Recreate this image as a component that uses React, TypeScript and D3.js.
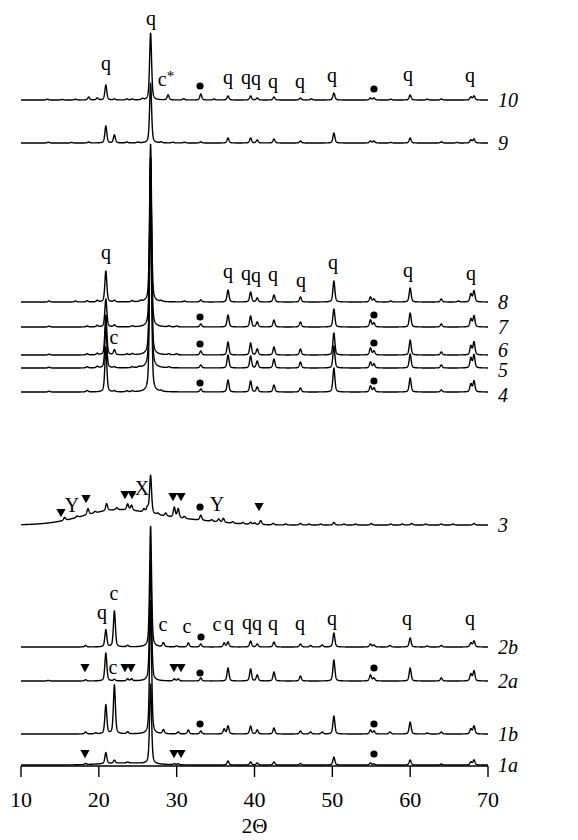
import * as d3 from 'd3';

const W = 578;
const H = 840;

// trace names, bottom to top, and their vertical offsets (intensity units)
const traceNames = ['1a', '1b', '2a', '2b', '3', '4', '5', '6', '7', '8', '9', '10'];
const traceOffsets = [1, 32, 85, 119, 241, 374, 398, 411, 439, 464, 623, 666];

// peaks: [2θ, height]
const peaks1a: [number, number][] = [
  [18.3, 1], [20.9, 11], [22.0, 3], [23.7, 1], [26.65, 80], [29.7, 1], [30.2, 1], [36.6, 4],
  [39.5, 3], [40.35, 2], [42.5, 3], [45.9, 1.5], [50.2, 8], [54.9, 2], [55.35, 1], [60.0, 5],
  [64.0, 1], [67.8, 3], [68.2, 5],
];
const peaks1b: [number, number][] = [
  [18.3, 2], [19.6, 1], [20.9, 29], [22.0, 49], [23.7, 2], [26.65, 134], [28.3, 4], [30.2, 2],
  [31.5, 4], [33.1, 3], [36.1, 5], [36.6, 8], [39.5, 8], [40.35, 4], [42.5, 6], [45.9, 3],
  [47.2, 2], [48.7, 2], [50.2, 18], [54.9, 4], [55.35, 3], [57.4, 2], [60.0, 12], [62.2, 1],
  [64.0, 2], [67.8, 5], [68.2, 8],
];
const peaks2a: [number, number][] = [
  [13.5, 0.6], [18.3, 1.2], [20.9, 28], [22.0, 1.5], [23.7, 2], [24.2, 2], [26.65, 120],
  [29.7, 2], [30.2, 2], [33.1, 3], [36.6, 13], [39.5, 12], [40.35, 6], [42.5, 9], [45.9, 5],
  [50.2, 21], [54.9, 6], [55.35, 3], [60.0, 13], [64.0, 3], [67.8, 7], [68.2, 10],
];
const peaks2b: [number, number][] = [
  [18.3, 1.5], [20.9, 17], [22.0, 36], [23.7, 1.5], [26.65, 121], [28.3, 4], [30.0, 1],
  [31.5, 4], [33.1, 3], [36.1, 4], [36.6, 5], [39.5, 6], [40.35, 3], [42.5, 5], [45.9, 3],
  [47.2, 1.5], [48.7, 2], [50.2, 14], [54.9, 3], [55.35, 2], [57.4, 1.5], [60.0, 9],
  [62.2, 1], [64.0, 1.5], [67.8, 4], [68.2, 6],
];
const peaks3: [number, number][] = [
  [15.6, 3], [17.2, 1.5], [18.6, 6], [19.5, 1.5], [21.0, 7], [22.3, 2], [23.7, 6], [24.2, 5],
  [25.8, 3], [26.25, 5], [26.65, 38], [27.6, 1.5], [28.6, 3], [29.7, 10], [30.2, 9], [31.0, 2],
  [33.1, 5], [34.5, 1.5], [35.4, 3], [36.0, 4], [37.2, 1.5], [38.5, 1.5], [39.5, 2], [40.0, 1.5],
  [40.8, 4], [42.4, 1.5], [44.0, 1], [45.9, 1.5], [47.0, 1], [48.5, 1], [50.2, 2.5], [51.5, 1],
  [53.0, 1], [55.0, 1.5], [57.5, 1], [59.0, 1], [60.2, 1.5], [62.0, 1], [64.0, 1], [65.5, 1],
  [68.2, 1.5],
];
const peaks4: [number, number][] = [
  [13.6, 0.8], [18.5, 1.5], [20.9, 45], [22.0, 1], [23.6, 1], [24.3, 1], [26.65, 200],
  [28.0, 1], [33.1, 3], [36.6, 12], [39.5, 11], [40.35, 5], [42.5, 7], [45.9, 4], [50.2, 24],
  [54.9, 6], [55.35, 4], [60.0, 14], [64.0, 2], [67.8, 8], [68.2, 11],
];
const peaks5: [number, number][] = [
  [13.6, 0.8], [18.5, 1.2], [19.8, 1.5], [20.9, 42], [22.0, 1], [24.3, 1], [25.2, 1],
  [26.65, 210], [29.0, 1], [33.1, 3], [36.6, 13], [39.5, 12], [40.35, 7], [42.5, 9],
  [45.9, 6], [50.2, 22], [54.9, 6], [55.35, 4], [60.0, 14], [64.0, 3], [67.8, 10], [68.2, 13],
];
const peaks6: [number, number][] = [
  [13.6, 0.8], [18.5, 1.2], [19.8, 1.5], [20.9, 40], [22.0, 5], [23.6, 1], [24.3, 1.2],
  [26.65, 190], [29.0, 1], [30.0, 1.2], [33.1, 4], [36.6, 13], [39.5, 12], [40.35, 6],
  [42.5, 8], [45.9, 6], [50.2, 22], [54.9, 7], [55.35, 4], [60.0, 15], [64.0, 3], [67.8, 9],
  [68.2, 13],
];
const peaks7: [number, number][] = [
  [13.6, 0.8], [18.5, 1], [19.8, 1.5], [20.9, 28], [22.0, 2], [24.3, 1], [26.65, 170],
  [29.0, 1], [30.0, 1], [33.1, 3], [36.6, 12], [39.5, 11], [40.35, 5], [42.5, 7], [45.9, 5],
  [50.2, 18], [54.9, 7], [55.35, 4], [60.0, 14], [64.0, 3], [67.8, 8], [68.2, 11],
];
const peaks8: [number, number][] = [
  [13.6, 1], [17.0, 1], [18.5, 1.2], [19.8, 1.5], [20.9, 31], [22.0, 1.5], [24.3, 1.2],
  [25.4, 1], [26.65, 158], [28.0, 1], [31.0, 1], [33.1, 2], [36.6, 12], [39.5, 10],
  [40.35, 4], [42.5, 7], [45.9, 5], [50.2, 21], [54.9, 5], [55.35, 3], [57.5, 1], [60.0, 14],
  [64.0, 3], [66.2, 1], [67.8, 8], [68.2, 11],
];
const peaks9: [number, number][] = [
  [13.5, 0.8], [16.5, 0.6], [18.7, 1], [20.9, 17], [22.0, 8], [23.6, 1], [25.0, 0.8],
  [26.65, 60], [28.0, 1], [29.5, 0.8], [31.0, 0.8], [33.1, 1.2], [36.6, 5], [39.5, 5],
  [40.35, 3], [42.5, 4], [45.9, 2], [50.2, 10], [54.9, 2], [55.35, 2], [57.5, 0.6], [60.0, 5],
  [64.0, 1.2], [66.0, 0.6], [67.8, 3], [68.2, 4],
];
const peaks10: [number, number][] = [
  [13.4, 0.8], [15.3, 0.6], [17.0, 0.8], [18.7, 3], [19.8, 2], [20.9, 15], [22.0, 1],
  [23.6, 1], [24.3, 1], [25.6, 1.2], [26.65, 67], [28.9, 5], [30.9, 1.2], [33.1, 6],
  [34.8, 1], [36.6, 4], [39.5, 4], [40.35, 2], [42.5, 3], [45.9, 2], [47.3, 1.2], [50.2, 7],
  [54.9, 2], [55.35, 2], [57.5, 0.8], [60.0, 5], [62.2, 0.8], [64.0, 1], [67.8, 3], [68.2, 4],
];
const tracePeaks = [peaks1a, peaks1b, peaks2a, peaks2b, peaks3, peaks4, peaks5, peaks6, peaks7, peaks8, peaks9, peaks10];

// amorphous humps: [2θ center, height, sigma]
const humps1a: [number, number, number][] = [[23.5, 2, 3]];
const humps3: [number, number, number][] = [[22.5, 15, 4.5], [32, 4, 4]];
const traceHumps = [humps1a, [], [], [], humps3, [], [], [], [], [], [], []];

// phase marks: [symbol, 2θ, level]
const marks: [string, number, number][] = [
  // 10
  ['q', 20.92, 698], ['q', 26.7, 743], ['c*', 28.63, 684], ['dot', 33.0, 680], ['q', 36.6, 684],
  ['q', 38.9, 684], ['q', 40.19, 683], ['q', 42.38, 680], ['q', 45.85, 680], ['q', 49.96, 686],
  ['dot', 55.35, 677], ['q', 59.72, 687], ['q', 67.69, 686],
  // 8
  ['q', 20.92, 509], ['q', 36.6, 490], ['q', 38.9, 488], ['q', 40.19, 486], ['q', 42.38, 487],
  ['q', 45.98, 481], ['q', 50.09, 499], ['q', 59.72, 491], ['q', 67.82, 488],
  // 7, 6, 4
  ['dot', 33.0, 449], ['dot', 55.35, 451],
  ['c', 21.95, 426], ['dot', 33.0, 422], ['dot', 55.35, 423],
  ['dot', 33.0, 383], ['dot', 55.35, 385],
  // 3
  ['tri', 15.14, 253], ['Y', 16.55, 260], ['tri', 18.35, 267], ['tri', 23.36, 271],
  ['tri', 24.26, 271], ['X', 25.55, 277], ['tri', 29.53, 269], ['tri', 30.56, 269],
  ['dot', 33.0, 259], ['Y', 35.18, 261], ['tri', 40.58, 259],
  // 2b
  ['q', 20.41, 149], ['c', 21.95, 170], ['c', 28.24, 139], ['c', 31.33, 137], ['dot', 33.13, 129],
  ['c', 35.18, 139], ['q', 36.72, 138], ['q', 39.04, 139], ['q', 40.32, 138], ['q', 42.38, 138],
  ['q', 45.85, 138], ['q', 49.96, 143], ['q', 59.59, 143], ['q', 67.69, 143],
  // 2a
  ['tri', 18.22, 98], ['c', 21.82, 96], ['tri', 23.36, 98], ['tri', 24.13, 98],
  ['tri', 29.66, 98], ['tri', 30.56, 98], ['dot', 33.0, 93], ['dot', 55.35, 98],
  // 1b, 1a
  ['dot', 33.0, 42], ['dot', 55.35, 42],
  ['tri', 18.22, 12], ['tri', 29.66, 12], ['tri', 30.56, 12], ['dot', 55.35, 12],
];

const xTicks = [10, 20, 30, 40, 50, 60, 70];

const x = d3.scaleLinear().domain([10, 70]).range([21, 488]);
const y = d3.scaleLinear().domain([0, 740]).range([766, 26]);

const grid = d3.range(10, 70.0001, 0.02);
const WIDTH = 0.15;

function profile(peaks: [number, number][], humps: [number, number, number][], offset: number) {
  return grid.map((t) => {
    let v = offset;
    for (const [c, h] of peaks) {
      const u = (t - c) / WIDTH;
      if (Math.abs(u) > 60) continue;
      v += h * (0.45 / (1 + u * u) + 0.55 * Math.exp(-Math.LN2 * u * u));
    }
    for (const [c, h, s] of humps) {
      v += h * Math.exp(-((t - c) * (t - c)) / (2 * s * s));
    }
    return [t, v] as [number, number];
  });
}

const line = d3.line<[number, number]>()
  .x((d) => x(d[0]))
  .y((d) => y(d[1]));

const serif = '"Liberation Serif", "DejaVu Serif", serif';

// small nudges so the crowded labels 6 / 5 / 4 don't collide
const labelNudge: Record<string, number> = { '6': -5, '5': 2, '4': 3 };

function Mark({ sym, t, v }: { sym: string; t: number; v: number }) {
  const cx = x(t);
  const cy = y(v);
  if (sym === 'dot') return <circle cx={cx} cy={cy} r={3.6} fill="#000" />;
  if (sym === 'tri') {
    return <path d={`M${cx - 4.6},${cy - 4} L${cx + 4.6},${cy - 4} L${cx},${cy + 4.2} Z`} fill="#000" />;
  }
  const dy = sym === 'q' ? 2 : sym === 'X' || sym === 'Y' ? 6 : 4;
  if (sym === 'c*') {
    return (
      <text x={cx} y={cy + dy} textAnchor="middle" fontFamily={serif} fontSize={20}>
        c<tspan fontSize={15} dy={-5}>*</tspan>
      </text>
    );
  }
  return (
    <text x={cx} y={cy + dy} textAnchor="middle" fontFamily={serif} fontSize={20}>
      {sym}
    </text>
  );
}

export default function App() {
  return (
    <svg width={W} height={H} style={{ position: 'absolute', left: 0, top: 0, background: '#fff' }}>
      {traceNames.map((name, i) => (
        <g key={name}>
          <path
            d={line(profile(tracePeaks[i], traceHumps[i], traceOffsets[i])) || ''}
            fill="none"
            stroke="#000"
            strokeWidth={1.4}
            strokeLinejoin="round"
          />
          <text
            x={498}
            y={y(traceOffsets[i]) + 7 + (labelNudge[name] || 0)}
            fontFamily={serif}
            fontStyle="italic"
            fontSize={20}
          >
            {name}
          </text>
        </g>
      ))}
      {marks.map(([s, t, v], i) => (
        <Mark key={i} sym={s} t={t} v={v} />
      ))}
      <g>
        <line x1={x(10)} x2={x(70)} y1={766} y2={766} stroke="#000" strokeWidth={1.6} />
        {xTicks.map((t) => (
          <g key={t}>
            <line x1={x(t)} x2={x(t)} y1={766} y2={777} stroke="#000" strokeWidth={1.4} />
            <text x={x(t)} y={807} textAnchor="middle" fontFamily={serif} fontSize={22}>
              {t}
            </text>
          </g>
        ))}
        <text x={x(40)} y={833} textAnchor="middle" fontFamily={serif} fontSize={21}>
          2Θ
        </text>
      </g>
    </svg>
  );
}
